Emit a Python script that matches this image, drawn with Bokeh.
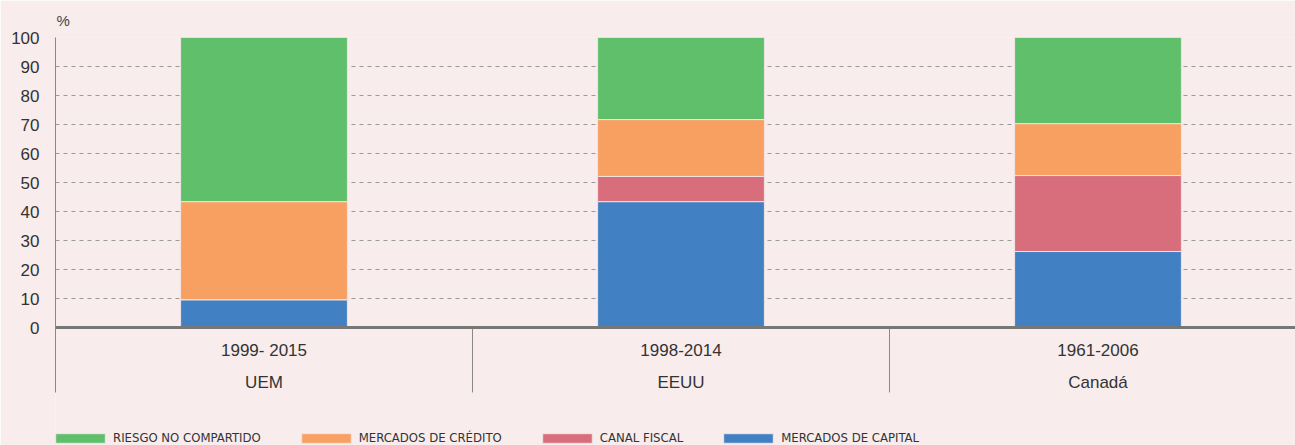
from bokeh.plotting import figure
from bokeh.models import ColumnDataSource, FixedTicker, Range1d, Legend, LegendItem, Span
from bokeh.core.properties import value
from bokeh.embed import file_html
from bokeh.resources import INLINE

periods = ["1999- 2015", "1998-2014", "1961-2006"]
countries = ["UEM", "EEUU", "Canadá"]
capital = [9.6, 43.4, 26.2]
fiscal = [0.0, 8.7, 26.2]
credito = [33.8, 19.6, 17.9]
riesgo = [56.6, 28.3, 29.7]
y_ticks = list(range(0, 101, 10))

series = ["capital", "fiscal", "credito", "riesgo"]
labels = {"riesgo": "RIESGO NO COMPARTIDO", "credito": "MERCADOS DE CRÉDITO",
          "fiscal": "CANAL FISCAL", "capital": "MERCADOS DE CAPITAL"}
colors = {"capital": "#4180C3", "fiscal": "#D86E7B", "credito": "#F89F62", "riesgo": "#5FBF6B"}

n = len(countries)
xpos = [i + 0.5 for i in range(n)]
seps = list(range(1, n))
src = ColumnDataSource(dict(x=xpos, capital=capital, fiscal=fiscal, credito=credito, riesgo=riesgo))

BG = "#F8ECEC"
FONT = "Liberation Sans"
AX_BOTTOM = -22.4   # lower end of the category label band (data units)

p = figure(frame_width=1240, frame_height=408, output_backend="svg", toolbar_location=None,
           x_range=Range1d(0, 1240 / 417), y_range=Range1d(-408 / 2.9 + 100, 100),
           background_fill_color=BG, border_fill_color=BG,
           min_border_left=55, min_border_right=0, min_border_top=37, min_border_bottom=0)
p.outline_line_color = None
p.title.text = "%"
p.title.text_font = FONT
p.title.text_font_style = "normal"
p.title.text_font_size = "15px"
p.title.text_color = "#444444"
p.title.offset = 1
p.title.standoff = 18

rs = p.vbar_stack(series, x="x", width=0.4, source=src,
                  fill_color=[colors[s] for s in series],
                  line_color="#F0E4E4", line_width=1)

# y axis
p.yaxis.ticker = FixedTicker(ticks=y_ticks)
p.yaxis.bounds = (AX_BOTTOM, 100)
p.yaxis.major_tick_line_color = None
p.yaxis.minor_tick_line_color = None
p.yaxis.axis_line_color = "#888888"
p.yaxis.major_label_text_font = FONT
p.yaxis.major_label_text_font_size = "17px"
p.yaxis.major_label_text_color = "#333333"
p.yaxis.major_label_standoff = 10

p.ygrid.grid_line_color = "#9A9A9A"
p.ygrid.grid_line_dash = "4 4"
p.ygrid.grid_line_width = 1
p.xgrid.grid_line_color = None
p.xaxis.visible = False

# baseline, group separators and category labels
p.add_layout(Span(location=0, dimension="width", line_color="#777777", line_width=3))
p.segment(x0=seps, y0=[0] * len(seps), x1=seps, y1=[AX_BOTTOM] * len(seps),
          line_color="#888888", line_width=1)
p.text(x=xpos, y=[-7.9] * n, text=periods, text_align="center", text_baseline="middle",
       text_font=value(FONT), text_font_size="17px", text_color="#333333")
p.text(x=xpos, y=[-19.0] * n, text=countries, text_align="center", text_baseline="middle",
       text_font=value(FONT), text_font_size="17px", text_color="#333333")

order = ["riesgo", "credito", "fiscal", "capital"]
items = [LegendItem(label=labels[s], renderers=[rs[series.index(s)]]) for s in order]
legend = Legend(items=items, orientation="horizontal", location=(-6, 0),
                background_fill_alpha=0, border_line_color=None,
                glyph_width=62, glyph_height=12, label_standoff=2, spacing=34,
                padding=0, margin=0,
                label_text_font="DejaVu Sans Condensed", label_text_font_size="13px",
                label_text_color="#333333")
p.add_layout(legend, "center")

open("out.html", "w").write(file_html(p, INLINE))
